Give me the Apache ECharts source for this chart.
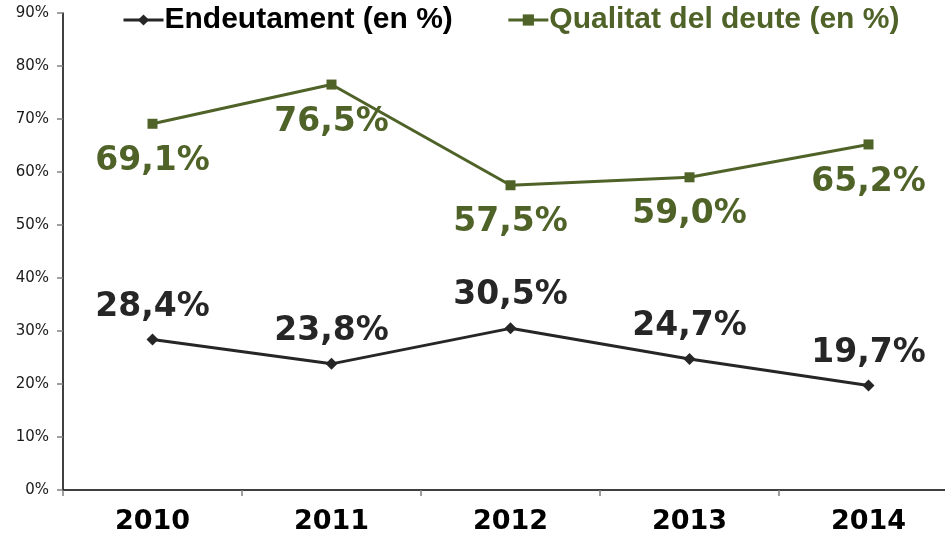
<!DOCTYPE html>
<html>
<head>
<meta charset="utf-8">
<script src="https://cdn.jsdelivr.net/npm/echarts@6/dist/echarts.min.js"></script>
<style>
  html, body { margin: 0; padding: 0; background: #fff; }
  #chart { width: 945px; height: 539px; }
</style>
</head>
<body>
<div id="chart"></div>
<script>
// dades llegides del gràfic
const years = ['2010', '2011', '2012', '2013', '2014'];
const endeutament = [28.4, 23.8, 30.5, 24.7, 19.7];
const qualitat = [69.1, 76.5, 57.5, 59.0, 65.2];
const yTicks = { min: 0, max: 90, step: 10 };

const dark = '#262626';
const green = '#4F6228';

function pct(p) {
  return p.value.toFixed(1).replace('.', ',') + '%';
}

let myChart = echarts.init(document.getElementById('chart'));
myChart.setOption({
  animation: false,
  grid: { left: 63, width: 895, top: 13, bottom: 49, outerBoundsMode: 'none', containLabel: false },
  legend: {
    left: 117,
    top: 0,
    itemWidth: 40,
    itemHeight: 14,
    itemGap: 54,
    lineStyle: { width: 3 },
    data: [
      { name: 'Endeutament (en %)', textStyle: { color: '#000' } },
      { name: 'Qualitat del deute (en %)', textStyle: { color: green } }
    ],
    textStyle: { fontFamily: 'Liberation Sans', fontWeight: 'bold', fontSize: 30, padding: [0, 0, 0, -4] }
  },
  xAxis: {
    type: 'category',
    data: years,
    boundaryGap: true,
    axisLine: { lineStyle: { color: '#000', width: 1.5 } },
    axisTick: { show: true, length: 6, lineStyle: { color: '#808080', width: 1.5 } },
    axisLabel: { color: '#000', fontFamily: 'DejaVu Sans', fontWeight: 'bold', fontSize: 27, margin: 18 }
  },
  yAxis: {
    type: 'value',
    min: yTicks.min,
    max: yTicks.max,
    interval: yTicks.step,
    axisLine: { show: true, lineStyle: { color: '#000', width: 1.5 } },
    axisTick: { show: true, length: 6, lineStyle: { color: '#808080', width: 1.5 } },
    splitLine: { show: false },
    axisLabel: { color: '#1a1a1a', fontFamily: 'DejaVu Sans', fontSize: 15, margin: 14, formatter: '{value}%' }
  },
  series: [
    {
      name: 'Endeutament (en %)',
      type: 'line',
      data: endeutament,
      symbol: 'diamond',
      symbolSize: 12,
      itemStyle: { color: dark },
      lineStyle: { color: dark, width: 3 },
      label: {
        show: true, position: 'top', distance: 10, formatter: pct,
        color: dark, fontFamily: 'DejaVu Sans', fontWeight: 'bold', fontSize: 33
      }
    },
    {
      name: 'Qualitat del deute (en %)',
      type: 'line',
      data: qualitat,
      symbol: 'rect',
      symbolSize: 10,
      itemStyle: { color: green },
      lineStyle: { color: green, width: 3 },
      label: {
        show: true, position: 'bottom', distance: 16, formatter: pct,
        color: green, fontFamily: 'DejaVu Sans', fontWeight: 'bold', fontSize: 33
      }
    }
  ]
});
</script>
</body>
</html>
